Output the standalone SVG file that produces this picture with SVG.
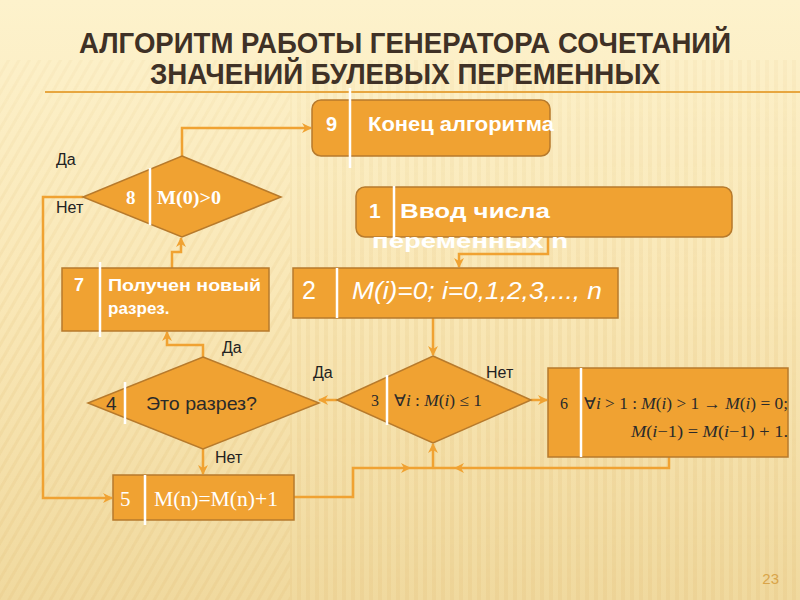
<svg xmlns="http://www.w3.org/2000/svg" width="800" height="600" viewBox="0 0 800 600">
<defs>
<linearGradient id="bg" x1="0" y1="0" x2="0" y2="1">
<stop offset="0" stop-color="#fdf2cc"/>
<stop offset="0.5" stop-color="#f9e7b6"/>
<stop offset="1" stop-color="#f0d99e"/>
</linearGradient>
<pattern id="vstripe" width="9" height="10" patternUnits="userSpaceOnUse">
<rect x="0" y="0" width="4" height="10" fill="#e6c885" opacity="0.35"/>
</pattern>
<pattern id="dstripe" width="9" height="9" patternUnits="userSpaceOnUse" patternTransform="rotate(30)">
<rect x="0" y="0" width="3" height="9" fill="#e6c885" opacity="0.35"/>
</pattern>
<linearGradient id="fadeR" x1="0" y1="0" x2="0" y2="1">
<stop offset="0" stop-color="#fff" stop-opacity="0.3"/>
<stop offset="1" stop-color="#fff" stop-opacity="1"/>
</linearGradient>
<mask id="mR"><rect x="0" y="60" width="800" height="540" fill="url(#fadeR)"/></mask>
<marker id="arr" viewBox="0 0 10 10" refX="9" refY="5" markerWidth="10" markerHeight="10" markerUnits="userSpaceOnUse" orient="auto">
<path d="M0,0 L10,5 L0,10 L3,5 z" fill="#f0a232"/>
</marker>
<style>
.title{font-family:"Liberation Sans Narrow","Liberation Sans",Arial,sans-serif;font-weight:bold;font-size:29px;fill:#3f3126}
.node{fill:#f0a232;stroke:#b77a2c;stroke-width:1.5}
.sep{stroke:#ffffff;stroke-width:2.5}
.wb{font-family:"Liberation Sans",Arial,sans-serif;font-weight:bold;fill:#ffffff}
.dk{font-family:"Liberation Sans",Arial,sans-serif;fill:#2a2a2a}
.ser{font-family:"Liberation Serif","Times New Roman",serif}
.lbl{font-family:"Liberation Sans",Arial,sans-serif;font-size:16px;fill:#222222}
.conn{fill:none;stroke:#f0a232;stroke-width:2.5}
</style>
</defs>

<!-- background -->
<rect x="0" y="0" width="800" height="600" fill="url(#bg)"/>
<g mask="url(#mR)">
<rect x="0" y="60" width="290" height="540" fill="url(#dstripe)"/>
<rect x="290" y="60" width="510" height="540" fill="url(#vstripe)"/>
</g>

<!-- title -->
<text class="title" x="405" y="53" text-anchor="middle" textLength="652" lengthAdjust="spacingAndGlyphs">АЛГОРИТМ РАБОТЫ ГЕНЕРАТОРА СОЧЕТАНИЙ</text>
<text class="title" x="405" y="84" text-anchor="middle" textLength="510" lengthAdjust="spacingAndGlyphs">ЗНАЧЕНИЙ БУЛЕВЫХ ПЕРЕМЕННЫХ</text>
<line x1="45" y1="92" x2="800" y2="92" stroke="#e7a640" stroke-width="2"/>

<!-- connectors -->
<g id="connectors">
<path class="conn" d="M548,237 V254 H459 V267" marker-end="url(#arr)"/>
<path class="conn" d="M433,318 V355" marker-end="url(#arr)"/>
<path class="conn" d="M337,400 H319" marker-end="url(#arr)"/>
<path class="conn" d="M531,400 H547" marker-end="url(#arr)"/>
<path class="conn" d="M669,457 V468 H455" marker-end="url(#arr)"/>
<path class="conn" d="M455,468 H433"/>
<path class="conn" d="M294,497 H353 V468 H410" marker-end="url(#arr)"/>
<path class="conn" d="M410,468 H433"/>
<path class="conn" d="M433,468 V444" marker-end="url(#arr)"/>
<path class="conn" d="M203,357 V345 H167 V332" marker-end="url(#arr)"/>
<path class="conn" d="M203,449 V474" marker-end="url(#arr)"/>
<path class="conn" d="M172,268 V252 H181 V238" marker-end="url(#arr)"/>
<path class="conn" d="M182,156 V128 H311" marker-end="url(#arr)"/>
<path class="conn" d="M83,197 H43 V498 H112" marker-end="url(#arr)"/>
</g>

<!-- node 9 -->
<g id="node9">
<rect class="node" x="312" y="100" width="238" height="56" rx="9"/>
<line class="sep" x1="350" y1="88" x2="350" y2="168"/>
<text class="wb" x="326" y="131" font-size="20">9</text>
<text class="wb" x="368" y="131" font-size="20" textLength="186" lengthAdjust="spacingAndGlyphs">Конец алгоритма</text>
</g>

<!-- node 1 -->
<g id="node1">
<rect class="node" x="356" y="187" width="376" height="50" rx="9"/>
<line class="sep" x1="394" y1="186" x2="394" y2="238"/>
<text class="wb" x="369" y="218" font-size="21">1</text>
<text class="wb" x="400" y="218" font-size="21" textLength="150" lengthAdjust="spacingAndGlyphs">Ввод числа</text>
<text class="wb" x="372" y="248" font-size="21" textLength="196" lengthAdjust="spacingAndGlyphs">переменных   n</text>
</g>

<!-- node 2 -->
<g id="node2">
<rect class="node" x="293" y="268" width="325" height="50"/>
<line class="sep" x1="337" y1="268" x2="337" y2="318"/>
<text x="302" y="299" font-family="Liberation Sans, Arial, sans-serif" font-size="25" fill="#ffffff">2</text>
<text x="352" y="299" font-family="Liberation Sans, Arial, sans-serif" font-size="23" font-style="italic" fill="#ffffff" textLength="250" lengthAdjust="spacingAndGlyphs">M(i)=0;  i=0,1,2,3,..., n</text>
</g>

<!-- node 3 -->
<g id="node3">
<polygon class="node" points="433,356 531,400 433,443 337,400"/>
<line class="sep" x1="387" y1="375" x2="387" y2="425"/>
<text class="ser" x="371" y="406" font-size="16" fill="#2a2a2a">3</text>
<text class="ser" x="394" y="406" font-size="16" fill="#2a2a2a" textLength="88" lengthAdjust="spacingAndGlyphs">∀<tspan font-style="italic">i</tspan> : <tspan font-style="italic">M</tspan>(<tspan font-style="italic">i</tspan>) ≤ 1</text>
</g>

<!-- node 4 -->
<g id="node4">
<polygon class="node" points="203,357 319,403 203,449 88,403"/>
<line class="sep" x1="125" y1="382" x2="125" y2="424"/>
<text class="dk" x="106" y="410" font-size="19">4</text>
<text class="dk" x="146" y="410" font-size="19" textLength="111" lengthAdjust="spacingAndGlyphs">Это разрез?</text>
</g>

<!-- node 5 -->
<g id="node5">
<rect class="node" x="113" y="475" width="181" height="45"/>
<line class="sep" x1="145" y1="475" x2="145" y2="525"/>
<text class="ser" x="120" y="506" font-size="21" fill="#ffffff">5</text>
<text class="ser" x="154" y="506" font-size="21" fill="#ffffff" textLength="124" lengthAdjust="spacingAndGlyphs">M(n)=M(n)+1</text>
</g>

<!-- node 6 -->
<g id="node6">
<rect class="node" x="548" y="368" width="240" height="89"/>
<line class="sep" x1="581" y1="368" x2="581" y2="457"/>
<text class="ser" x="560" y="409" font-size="16" fill="#2a2a2a">6</text>
<text class="ser" x="584" y="409" font-size="16" fill="#2a2a2a" textLength="204" lengthAdjust="spacingAndGlyphs">∀<tspan font-style="italic">i</tspan> &gt; 1 : <tspan font-style="italic">M</tspan>(<tspan font-style="italic">i</tspan>) &gt; 1 → <tspan font-style="italic">M</tspan>(<tspan font-style="italic">i</tspan>) = 0;</text>
<text class="ser" x="631" y="437" font-size="16" fill="#2a2a2a" textLength="157" lengthAdjust="spacingAndGlyphs"><tspan font-style="italic">M</tspan>(<tspan font-style="italic">i</tspan>−1) = <tspan font-style="italic">M</tspan>(<tspan font-style="italic">i</tspan>−1) + 1.</text>
</g>

<!-- node 7 -->
<g id="node7">
<rect class="node" x="62" y="268" width="207" height="63"/>
<line class="sep" x1="100" y1="262" x2="100" y2="337"/>
<text class="wb" x="74" y="291" font-size="18">7</text>
<text class="wb" x="108" y="291" font-size="17" textLength="153" lengthAdjust="spacingAndGlyphs">Получен новый</text>
<text class="wb" x="108" y="314" font-size="17">разрез.</text>
</g>

<!-- node 8 -->
<g id="node8">
<polygon class="node" points="182,156 281,197 182,237 83,197"/>
<line class="sep" x1="150" y1="168" x2="150" y2="225"/>
<text class="ser" x="126" y="204" font-size="19" font-weight="bold" fill="#ffffff">8</text>
<text class="ser" x="157" y="204" font-size="19" font-weight="bold" fill="#ffffff" textLength="64" lengthAdjust="spacingAndGlyphs">M(0)&gt;0</text>
</g>

<!-- labels -->
<text class="lbl" x="56" y="165">Да</text>
<text class="lbl" x="56" y="213">Нет</text>
<text class="lbl" x="222" y="353">Да</text>
<text class="lbl" x="313" y="378">Да</text>
<text class="lbl" x="486" y="378">Нет</text>
<text class="lbl" x="215" y="463">Нет</text>

<text x="779" y="584" text-anchor="end" font-family="Liberation Sans, Arial, sans-serif" font-size="15" fill="#d9a54a">23</text>
</svg>
